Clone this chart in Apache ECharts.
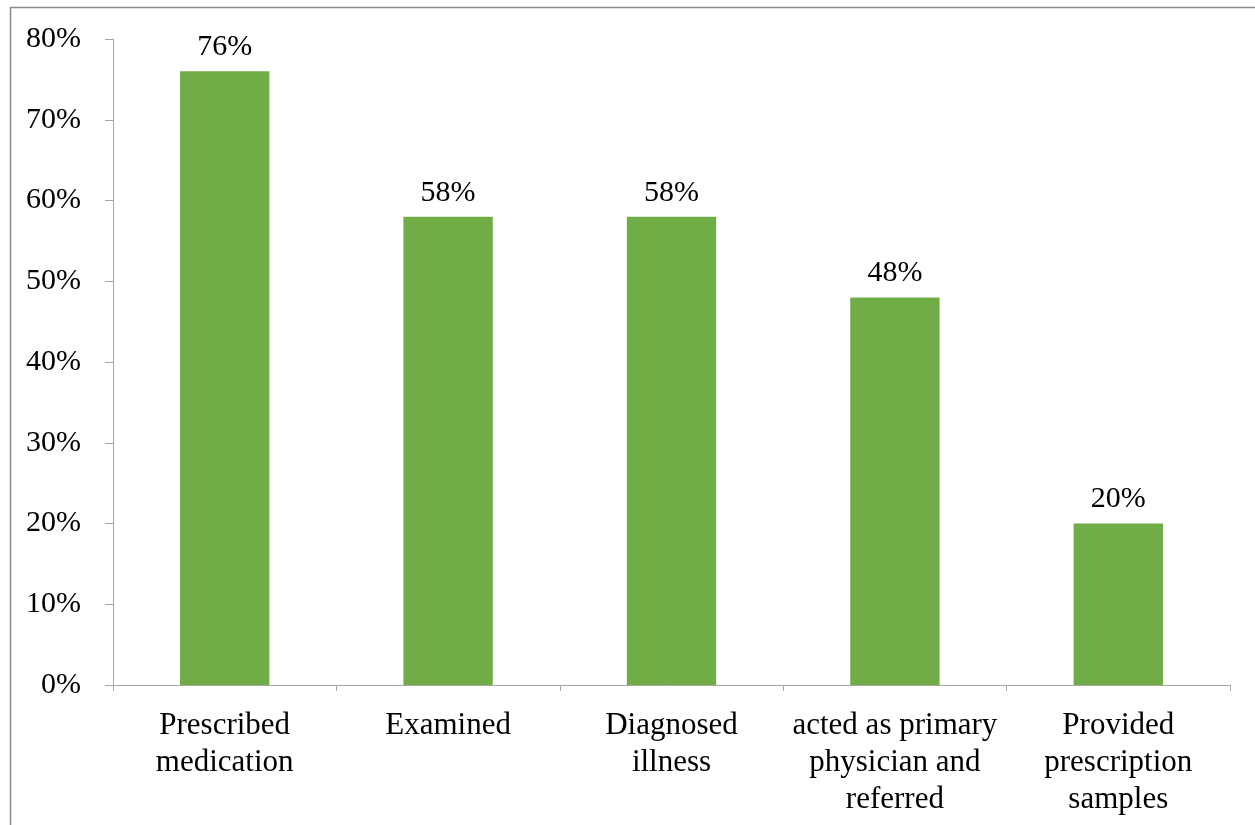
<!DOCTYPE html>
<html><head><meta charset="utf-8">
<script src="https://cdn.jsdelivr.net/npm/echarts@6/dist/echarts.min.js"></script>
<style>html,body{margin:0;padding:0;background:#fff}#c{width:1255px;height:825px}</style>
</head><body><div id="c"></div>
<script>
const categories = ["Prescribed\nmedication", "Examined", "Diagnosed\nillness", "acted as primary\nphysician and\nreferred", "Provided\nprescription\nsamples"];
const values = [76, 58, 58, 48, 20];
const yTicks = [0, 10, 20, 30, 40, 50, 60, 70, 80];

const chart = echarts.init(document.getElementById('c'), null, {renderer: 'canvas'});
const font = '"Liberation Serif", "Times New Roman", serif';
chart.setOption({
  animation: false,
  graphic: [{
    type: 'rect', silent: true,
    shape: {x: 10.5, y: 7.5, width: 1300, height: 900},
    style: {fill: 'none', stroke: '#8c8c8c', lineWidth: 1.5}
  }],
  grid: {left: 113, right: 25, top: 39, bottom: 140, containLabel: false},
  xAxis: {
    type: 'category', data: categories,
    axisLine: {show: true, lineStyle: {color: '#a6a6a6', width: 1}},
    axisTick: {show: true, alignWithLabel: false, length: 6, lineStyle: {color: '#a6a6a6'}},
    axisLabel: {interval: 0, margin: 22, fontFamily: font, fontSize: 31, color: '#000', lineHeight: 37, align: 'center'}
  },
  yAxis: {
    type: 'value', min: 0, max: 80, interval: 10,
    axisLine: {show: true, lineStyle: {color: '#a6a6a6', width: 1}},
    axisTick: {show: true, length: 8, lineStyle: {color: '#a6a6a6'}},
    splitLine: {show: false},
    axisLabel: {margin: 32, fontFamily: font, fontSize: 30, color: '#000', padding: [3, 0, 0, 0],
      formatter: v => yTicks.includes(v) ? v + '%' : ''}
  },
  series: [{
    type: 'bar', data: values, barWidth: '40%',
    itemStyle: {color: '#70ad47'},
    label: {show: true, position: 'top', distance: 9, formatter: p => p.value + '%',
      fontFamily: font, fontSize: 30, color: '#000'}
  }]
});
</script></body></html>
